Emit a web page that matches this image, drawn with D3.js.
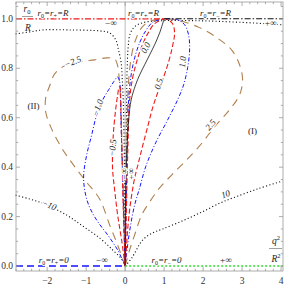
<!DOCTYPE html>
<html><head><meta charset="utf-8">
<script src="https://cdn.jsdelivr.net/npm/d3@7"></script>
<style>
body{margin:0;background:#fff;}
text{font-family:"Liberation Serif","Times New Roman",serif;}
</style></head><body>
<div id="chart"></div>
<script>
// Chart size
var svgWidth = 287, svgHeight = 287;

// Contour data, (q^2/R^2, r0/R)
var negInf = [[-2.81,0.939],[-2.45,0.947],[-2.12,0.955],[-1.42,0.955],[-0.65,0.951],[-0.40,0.943],[-0.24,0.915],[-0.17,0.874],[-0.105,0.826],[-0.072,0.753],[-0.049,0.672],[-0.023,0.470],[-0.011,0.267],[0,0]];
var posInf = [[0,0],[0.013,0.267],[0.026,0.470],[0.038,0.672],[0.051,0.794],[0.077,0.883],[0.128,0.939],[0.244,0.968],[0.449,0.984],[0.885,0.992],[1.91,0.992],[2.94,0.986],[4.04,0.976]];
var neg10 = [[-2.81,0.287],[-2.45,0.271],[-2.06,0.251],[-1.5,0.206],[-1.09,0.162],[-0.65,0.113],[-0.32,0.065],[-0.09,0.028],[0,0]];
var pos10 = [[0,0],[0.167,0.032],[0.449,0.105],[0.705,0.134],[0.962,0.150],[1.474,0.183],[1.987,0.220],[2.449,0.256],[2.756,0.275],[3.397,0.312],[4.04,0.344]];
var neg25 = [[0,0],[-0.192,0.085],[-0.397,0.166],[-0.654,0.271],[-1.013,0.344],[-1.346,0.413],[-1.628,0.478],[-1.91,0.563],[-2.038,0.623],[-2.038,0.680],[-1.936,0.729],[-1.808,0.777],[-1.551,0.810],[-1.167,0.826],[-0.782,0.834],[-0.474,0.842],[-0.269,0.838],[-0.192,0.810],[-0.154,0.761],[-0.115,0.672],[-0.077,0.470],[-0.036,0.227],[0,0]];
var neg1 = [[0,0],[-0.192,0.065],[-0.449,0.126],[-0.731,0.186],[-0.936,0.247],[-1.038,0.308],[-1.064,0.368],[-0.987,0.449],[-0.859,0.530],[-0.731,0.611],[-0.577,0.672],[-0.423,0.713],[-0.295,0.745],[-0.192,0.765],[-0.141,0.745],[-0.122,0.692],[-0.100,0.551],[-0.062,0.348],[-0.028,0.146],[0,0]];
var neg05 = [[0,0],[-0.09,0.105],[-0.192,0.206],[-0.269,0.308],[-0.321,0.389],[-0.321,0.470],[-0.295,0.551],[-0.244,0.632],[-0.192,0.692],[-0.150,0.725],[-0.125,0.722],[-0.115,0.680],[-0.105,0.600],[-0.085,0.470],[-0.055,0.267],[-0.022,0.105],[0,0]];
var pos25in = [[0,0],[0.021,0.267],[0.038,0.470],[0.064,0.672],[0.103,0.773],[0.167,0.854],[0.269,0.915],[0.423,0.964],[0.628,0.990],[1.0,1.0]];
var pos1in = [[0,0],[0.028,0.267],[0.054,0.470],[0.090,0.672],[0.154,0.773],[0.244,0.842],[0.372,0.903],[0.526,0.951],[0.705,0.986],[1.0,1.0]];
var pos05in = [[0,0],[0.038,0.267],[0.069,0.470],[0.115,0.672],[0.192,0.761],[0.295,0.826],[0.423,0.887],[0.577,0.939],[0.756,0.980],[1.0,1.0]];
var zero = [[0,0],[0.005,0.186],[0.018,0.348],[0.044,0.470],[0.090,0.591],[0.154,0.672],[0.269,0.733],[0.372,0.773],[0.5,0.814],[0.628,0.854],[0.756,0.895],[0.885,0.943],[1.0,1.0]];
var pos05 = [[0,0],[0.038,0.085],[0.064,0.146],[0.115,0.227],[0.167,0.287],[0.244,0.356],[0.346,0.421],[0.449,0.486],[0.577,0.563],[0.705,0.640],[0.833,0.700],[0.962,0.753],[1.115,0.826],[1.218,0.891],[1.269,0.943],[1.218,0.980],[1.10,0.996],[1.0,1.0]];
var pos1 = [[0,0],[0.064,0.085],[0.141,0.166],[0.244,0.247],[0.372,0.316],[0.526,0.401],[0.782,0.498],[1.09,0.591],[1.346,0.672],[1.5,0.733],[1.603,0.802],[1.654,0.874],[1.628,0.935],[1.526,0.976],[1.346,0.996],[1.0,1.0]];
var pos25 = [[0,0],[0.115,0.065],[0.244,0.126],[0.423,0.206],[0.628,0.259],[0.885,0.316],[1.192,0.368],[1.526,0.421],[1.91,0.486],[2.295,0.563],[2.679,0.632],[2.936,0.692],[3.013,0.753],[2.936,0.814],[2.731,0.874],[2.321,0.927],[1.859,0.968],[1.295,0.996],[1.0,1.0]];

// Boundary lines
var topLeft = [[-2.8,1],[1,1]];
var topRight = [[1,1],[4.05,1]];
var botLeft = [[-2.8,0],[0,0]];
var botRight = [[0,0],[4.05,0]];

// Ticks
var xMajor = [-2,-1,0,1,2,3,4];
var yMajor = [0,0.2,0.4,0.6,0.8,1.0];
var yTickLabels = ["0.0","0.2","0.4","0.6","0.8","1.0"];

// Contour labels [text, q2, r0, angle]
var contourLabels = [
  ["\u22122.5",-1.346,0.826,-22],
  ["\u22121.0",-0.705,0.640,-70],
  ["\u22120.5",-0.321,0.478,-85],
  ["0.0",0.526,0.883,-62],
  ["0.5",0.859,0.737,-72],
  ["1.0",1.474,0.826,-85],
  ["2.5",2.19,0.571,-50],
  ["10",2.577,0.291,-20],
  ["\u221210",-1.95,0.247,22],
  ["+\u221e",3.73,0.984,0],
  ["\u2212\u221e",-0.372,0.984,0],
  ["\u2212\u221e",-0.04,0.372,-90],
  ["+\u221e",0.15,0.372,-90],
  ["\u2212\u221e",-0.6,0.024,0],
  ["+\u221e",2.58,0.024,0]
];

var svg = d3.select("#chart").append("svg")
    .attr("width", svgWidth).attr("height", svgHeight);

var x = d3.scaleLinear().domain([-2.8, 4.05]).range([16, 283]);
var y = d3.scaleLinear().domain([-0.02, 1.068]).range([271, 2]);

var line = d3.line().x(d => x(d[0])).y(d => y(d[1])).curve(d3.curveCatmullRom.alpha(0.5));
var straight = d3.line().x(d => x(d[0])).y(d => y(d[1]));

var plot = svg.append("g");

// q^2 = 0 axis line
plot.append("line")
    .attr("x1", x(0)).attr("x2", x(0)).attr("y1", y(1.068)).attr("y2", y(-0.02))
    .attr("stroke", "#aaa").attr("stroke-width", 0.8);

var styles = {
  dot: {stroke: "#111", dash: "1.1,2.3", w: 1.1},
  brown: {stroke: "#b0804f", dash: "8,6", w: 1.1},
  blue: {stroke: "#1515ff", dash: "4,2,1,2", w: 1},
  red: {stroke: "#ee1a1a", dash: "5,2.5", w: 1.1},
  solid: {stroke: "#111", dash: null, w: 0.8}
};

var contours = [
  [negInf,"dot"],[posInf,"dot"],[neg10,"dot"],[pos10,"dot"],
  [neg25,"brown"],[pos25,"brown"],[pos25in,"brown"],
  [neg1,"blue"],[pos1,"blue"],[pos1in,"blue"],
  [neg05,"red"],[pos05,"red"],[pos05in,"red"],
  [zero,"solid"]
];

contours.forEach(function(c) {
  var s = styles[c[1]];
  plot.append("path")
      .attr("d", line(c[0]))
      .attr("fill", "none")
      .attr("stroke", s.stroke)
      .attr("stroke-width", s.w)
      .attr("stroke-dasharray", s.dash);
});

// boundary lines
plot.append("path").attr("d", straight(topLeft)).attr("fill","none")
    .attr("stroke","#ee1a1a").attr("stroke-width",1.3).attr("stroke-dasharray","6,2,1.5,2");
plot.append("path").attr("d", straight(topRight)).attr("fill","none")
    .attr("stroke","#111").attr("stroke-width",1.1).attr("stroke-dasharray","6,2,1.5,2");
plot.append("path").attr("d", straight(botLeft)).attr("fill","none")
    .attr("stroke","#1515ff").attr("stroke-width",1.6).attr("stroke-dasharray","7,4");
plot.append("path").attr("d", straight(botRight)).attr("fill","none")
    .attr("stroke","#33dd33").attr("stroke-width",1.6).attr("stroke-dasharray","2,2");

// contour labels
contourLabels.forEach(function(l) {
  plot.append("text")
      .attr("transform", `translate(${x(l[1])},${y(l[2])}) rotate(${l[3]})`)
      .attr("text-anchor", "middle").attr("dy", "0.33em")
      .style("font-size", "9px").style("font-style", "italic")
      .style("paint-order", "stroke").attr("stroke", "#fff").attr("stroke-width", 2.5)
      .attr("fill", "#222")
      .text(l[0]);
});

// boundary labels with subscripts
function rLabel(qx, ry, sub, rhs) {
  var t = plot.append("text")
      .attr("x", x(qx)).attr("y", y(ry))
      .attr("text-anchor", "middle").attr("dy", "0.33em")
      .style("font-size", "9px").style("font-style", "italic")
      .style("paint-order", "stroke").attr("stroke", "#fff").attr("stroke-width", 2)
      .attr("fill", "#222");
  t.append("tspan").text("r");
  t.append("tspan").attr("dy", 2).style("font-size", "6px").style("font-style","normal").text("0");
  t.append("tspan").attr("dy", -2).text("=r");
  t.append("tspan").attr("dy", 2).style("font-size", "6px").style("font-style","normal").text(sub);
  t.append("tspan").attr("dy", -2).text("=" + rhs);
}
rLabel(-1.85, 1.022, "+", "R");
rLabel(0.47, 1.022, "+", "R");
rLabel(2.32, 1.022, "\u2212", "R");
rLabel(-1.83, 0.024, "+", "0");
rLabel(1.06, 0.024, "\u2212", "0");

// region labels
plot.append("text").attr("x", x(-2.35)).attr("y", y(0.648)).attr("dy","0.33em")
    .attr("text-anchor","middle").style("font-size","9px").attr("fill","#222").text("(II)");
plot.append("text").attr("x", x(3.27)).attr("y", y(0.547)).attr("dy","0.33em")
    .attr("text-anchor","middle").style("font-size","9px").attr("fill","#222").text("(I)");

// frame and ticks
var frame = svg.append("g").attr("stroke", "#999").attr("stroke-width", 0.8);
frame.append("rect").attr("x", 16).attr("y", 2).attr("width", 267).attr("height", 269).attr("fill", "none");

var xMinor = d3.range(-2.8, 4.05, 0.2).map(v => Math.round(v * 10) / 10);
var yMinor = d3.range(0, 1.06, 0.05).map(v => Math.round(v * 100) / 100);

xMinor.forEach(function(v) {
  var len = xMajor.indexOf(v) >= 0 ? 4 : 2.2;
  frame.append("line").attr("x1", x(v)).attr("x2", x(v)).attr("y1", 271).attr("y2", 271 - len);
  frame.append("line").attr("x1", x(v)).attr("x2", x(v)).attr("y1", 2).attr("y2", 2 + len);
});
yMinor.forEach(function(v) {
  var len = yMajor.some(m => Math.abs(m - v) < 1e-6) ? 4 : 2.2;
  frame.append("line").attr("y1", y(v)).attr("y2", y(v)).attr("x1", 16).attr("x2", 16 + len);
  frame.append("line").attr("y1", y(v)).attr("y2", y(v)).attr("x1", 283).attr("x2", 283 - len);
});

svg.selectAll(".xtl").data(xMajor).enter().append("text")
    .attr("x", d => x(d)).attr("y", 284)
    .attr("text-anchor", "middle").style("font-size", "9.5px").attr("fill", "#333")
    .text(d => d < 0 ? "\u2212" + (-d) : d);
svg.selectAll(".ytl").data(yMajor).enter().append("text")
    .attr("x", 13).attr("y", d => y(d)).attr("dy", "0.33em")
    .attr("text-anchor", "end").style("font-size", "9.5px").attr("fill", "#333")
    .text((d, i) => yTickLabels[i]);

// axis labels r0/R and q^2/R^2
var yl = svg.append("g").style("font-size", "9.5px").attr("fill", "#222");
yl.append("text").attr("x", 27).attr("y", 12).attr("text-anchor","middle")
    .html('<tspan font-style="italic">r</tspan><tspan dy="2" font-size="6.5px">0</tspan>');
yl.append("line").attr("x1", 22).attr("x2", 33).attr("y1", 16.5).attr("y2", 16.5).attr("stroke", "#777").attr("stroke-width", 0.7);
yl.append("text").attr("x", 28).attr("y", 31).attr("text-anchor","middle").style("font-style","italic").text("R");

var xl = svg.append("g").style("font-size", "9.5px").attr("fill", "#222");
xl.append("text").attr("x", 276).attr("y", 244).attr("text-anchor","middle")
    .html('<tspan font-style="italic">q</tspan><tspan dy="-4" font-size="6.5px">2</tspan>');
xl.append("line").attr("x1", 269).attr("x2", 282).attr("y1", 248.5).attr("y2", 248.5).attr("stroke", "#777").attr("stroke-width", 0.7);
xl.append("text").attr("x", 276).attr("y", 262).attr("text-anchor","middle")
    .html('<tspan font-style="italic">R</tspan><tspan dy="-4" font-size="6.5px">2</tspan>');
</script></body></html>
